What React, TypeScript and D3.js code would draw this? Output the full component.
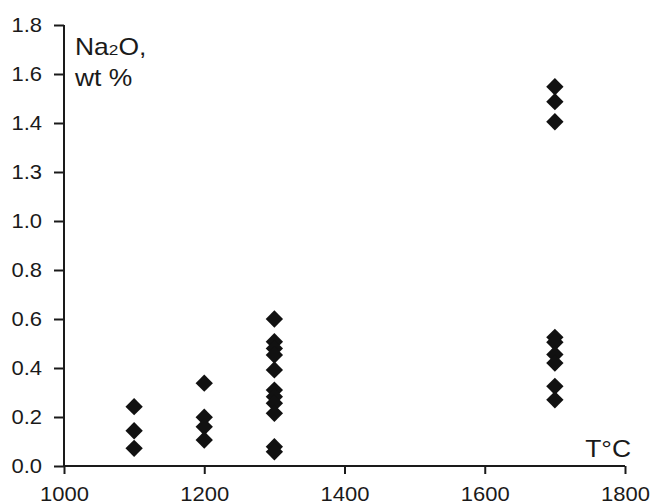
import * as d3 from "d3";
import React, { useRef, useEffect } from "react";

// T, °C  and measured Na2O, wt %
const temps = [
  1100, 1100, 1100,
  1200, 1200, 1200, 1200,
  1300, 1300, 1300, 1300, 1300, 1300, 1300, 1300, 1300, 1300, 1300,
  1700, 1700, 1700, 1700, 1700, 1700, 1700, 1700, 1700,
];
const na2o = [
  0.242, 0.144, 0.072,
  0.338, 0.199, 0.16, 0.106,
  0.6, 0.507, 0.48, 0.453, 0.392, 0.31, 0.283, 0.256, 0.215, 0.079, 0.058,
  1.548, 1.487, 1.405, 0.525, 0.505, 0.455, 0.42, 0.325, 0.27,
];
const xTicks = [1000, 1200, 1400, 1600, 1800];
const yTicks = [0, 0.2, 0.4, 0.6, 0.8, 1.0, 1.2, 1.4, 1.6, 1.8];
// the source figure labels the 1.2 tick as "1.3"
const yTickLabels = ["0.0", "0.2", "0.4", "0.6", "0.8", "1.0", "1.3", "1.4", "1.6", "1.8"];

const W = 652;
const H = 504;
const font = "'Liberation Sans', Arial, sans-serif";
const ink = "#1a1a1a";
const tickStretch = 1.1; // the figure's lettering is a bit wide
const titleStretch = 1.15;

function App() {
  const ref = useRef<SVGSVGElement>(null);

  useEffect(() => {
    const svg = d3.select(ref.current);
    svg.selectAll("*").remove();

    const x = d3.scaleLinear().domain([1000, 1800]).range([64, 625]);
    const y = d3.scaleLinear().domain([0, 1.8]).range([466, 25]);

    // y axis
    const gy = svg
      .append("g")
      .attr("transform", "translate(64,0)")
      .call(
        d3
          .axisLeft(y)
          .tickValues(yTicks)
          .tickSize(10)
          .tickFormat((d, i) => yTickLabels[i])
      );
    gy.select(".domain").attr("d", "M0," + y(1.8) + "V" + y(0));
    gy.selectAll(".tick text").attr("x", -22 / tickStretch);

    // x axis
    const gx = svg
      .append("g")
      .attr("transform", "translate(0,466)")
      .call(d3.axisBottom(x).tickValues(xTicks).tickSize(8).tickFormat(d3.format("d")));
    gx.select(".domain").attr("d", "M" + x(1000) + ",0H" + x(1800));
    gx.selectAll(".tick text").attr("y", 35).attr("dy", null);

    svg.selectAll(".domain, .tick line").attr("stroke", ink).attr("stroke-width", 2);
    svg
      .selectAll(".tick text")
      .attr("fill", ink)
      .attr("transform", "scale(" + tickStretch + ",1)")
      .style("font-family", font)
      .style("font-size", "20px");

    // points
    const diamond = d3.symbol().type(d3.symbolSquare).size(150);
    svg
      .append("g")
      .selectAll("path")
      .data(temps)
      .enter()
      .append("path")
      .attr("d", diamond)
      .attr("transform", (d, i) => "translate(" + x(d) + "," + y(na2o[i]) + ") rotate(45)")
      .attr("fill", "#111");

    // axis titles
    const title = (tx: number, ty: number, anchor: string) =>
      svg
        .append("text")
        .attr("transform", "translate(" + tx + "," + ty + ") scale(" + titleStretch + ",1)")
        .attr("text-anchor", anchor)
        .attr("fill", ink)
        .style("font-family", font)
        .style("font-size", "23px");

    const yt = title(75, 55, "start");
    yt.append("tspan").text("Na");
    yt.append("tspan").style("font-size", "15px").text("2");
    yt.append("tspan").text("O,");
    title(75, 86, "start").text("wt %");
    title(631, 457, "end").text("T°C");
  }, []);

  return (
    <svg
      ref={ref}
      width={W}
      height={H}
      style={{ position: "absolute", left: 0, top: 0, background: "#fff" }}
    ></svg>
  );
}

export default App;
